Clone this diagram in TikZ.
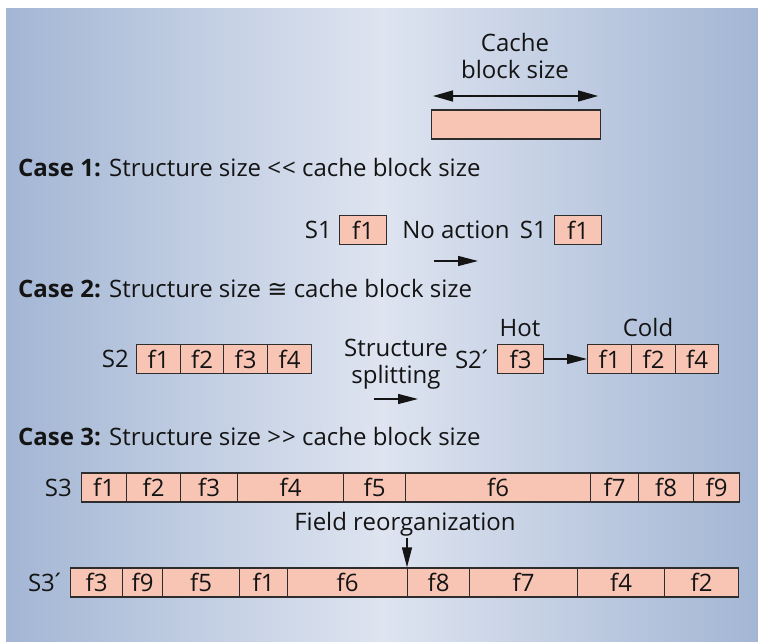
\documentclass[tikz,border=0pt]{standalone}
\usepackage{fontspec}
\setmainfont{Open Sans}
\newfontfamily\symfont{DejaVu Sans}
\usetikzlibrary{arrows.meta,calc}

\definecolor{bgedge}{RGB}{163,182,212}
\definecolor{bgmid}{RGB}{222,228,240}
\definecolor{cellfill}{RGB}{248,197,181}
\definecolor{cellline}{RGB}{45,45,45}
\definecolor{ink}{RGB}{20,20,20}

% tight prime-like accent after a structure name
\newcommand{\primed}[1]{#1\kern-4pt´}

\begin{document}
\begin{tikzpicture}[x=1pt,y=-1pt,
  every node/.style={font=\fontsize{24pt}{27pt}\selectfont, text=ink},
  cell/.style={draw=cellline, fill=cellfill, line width=1.3pt,
    minimum height=29pt, inner sep=0pt, anchor=west},
  tag/.style={inner sep=0pt, anchor=east},
  caseline/.style={inner sep=0pt, anchor=base west},
  conn/.style={draw=ink, line width=1.3pt, -{Triangle[length=20pt,width=10pt]}},
  bothconn/.style={draw=ink, line width=1.3pt,
    {Triangle[length=20pt,width=11pt]}-{Triangle[length=20pt,width=11pt]}},
]
\useasboundingbox (0,0) rectangle (758,642);
% backdrop
\shade[left color=bgedge, right color=bgedge, middle color=bgmid]
  (6,9) rectangle (758,642);

% cache block
\node[cell, minimum width=169pt] (cb) at (431,124.5) {};
\node[anchor=base, align=center] (cbl) at (515,78) {Cache\\block size};
\coordinate (cbw) at (433,96);
\coordinate (cbe) at (598,96);
\draw[bothconn] (cbw) -- (cbe);

% case 1
\node[caseline] (case1) at (18,176)
  {\textbf{Case 1:} Structure size <\kern1pt< cache block size};
\node[cell, minimum width=47pt] (s1a) at (339,230) {f1};
\node[tag] (s1al) at ([xshift=-7pt]s1a.west) {S1};
\node[anchor=base] (noact) at (456,238) {No action};
\node[cell, minimum width=47pt] (s1b) at (554,230) {f1};
\node[tag] (s1bl) at ([xshift=-7pt]s1b.west) {S1};
\coordinate (na1) at (434,261);
\coordinate (na2) at (478,261);
\draw[conn] (na1) -- (na2);

% case 2
\node[caseline] (case2) at (18,297)
  {\textbf{Case 2:} Structure size {\symfont ≅} cache block size};
\foreach \l/\r/\t in {136/180/f1,180/223/f2,223/267/f3,267/311/f4}
  \node[cell, minimum width={(\r-\l)*1pt}] (s2-\t) at (\l,359) {\t};
\node[tag] (s2l) at ([xshift=-7pt]s2-f1.west) {S2};
\node[anchor=base, align=center] (split) at (396,383) {Structure\\splitting};
\coordinate (sp1) at (374,399);
\coordinate (sp2) at (418,399);
\draw[conn] (sp1) -- (sp2);
\node[cell, minimum width=46pt] (hot-f3) at (497,359) {f3};
\node[tag] (s2pl) at ([xshift=-5pt]hot-f3.west) {\primed{S2}};
\foreach \l/\r/\t in {587/631/f1,631/675/f2,675/718/f4}
  \node[cell, minimum width={(\r-\l)*1pt}] (cold-\t) at (\l,359) {\t};
\node[anchor=base] (hot) at (520,336) {Hot};
\node[anchor=base] (cold) at (648,336) {Cold};
\draw[conn] (hot-f3.east) -- (cold-f1.west);

% case 3
\node[caseline] (case3) at (18,445)
  {\textbf{Case 3:} Structure size >\kern1pt> cache block size};
\foreach \l/\r/\t in {81/126/f1,126/180/f2,180/237/f3,237/343/f4,343/405/f5,
                      405/590/f6,590/638/f7,638/693/f8,693/739/f9}
  \node[cell, minimum width={(\r-\l)*1pt}] (s3-\t) at (\l,487.5) {\t};
\node[tag] (s3l) at ([xshift=-9pt]s3-f1.west) {S3};
\node[anchor=base, inner sep=2pt] (fr) at (405,530) {Field reorganization};
\foreach \l/\r/\t in {70/122/f3,122/162/f9,162/239/f5,239/287/f1,287/407/f6,
                      407/469/f8,469/577/f7,577/664/f4,664/738/f2}
  \node[cell, minimum width={(\r-\l)*1pt}] (s3p-\t) at (\l,582.5) {\t};
\node[tag] (s3pl) at ([xshift=-5pt]s3p-f3.west) {\primed{S3}};
\draw[conn] (fr.south -| s3p-f8.west) -- (s3p-f8.north west);
\end{tikzpicture}
\end{document}
